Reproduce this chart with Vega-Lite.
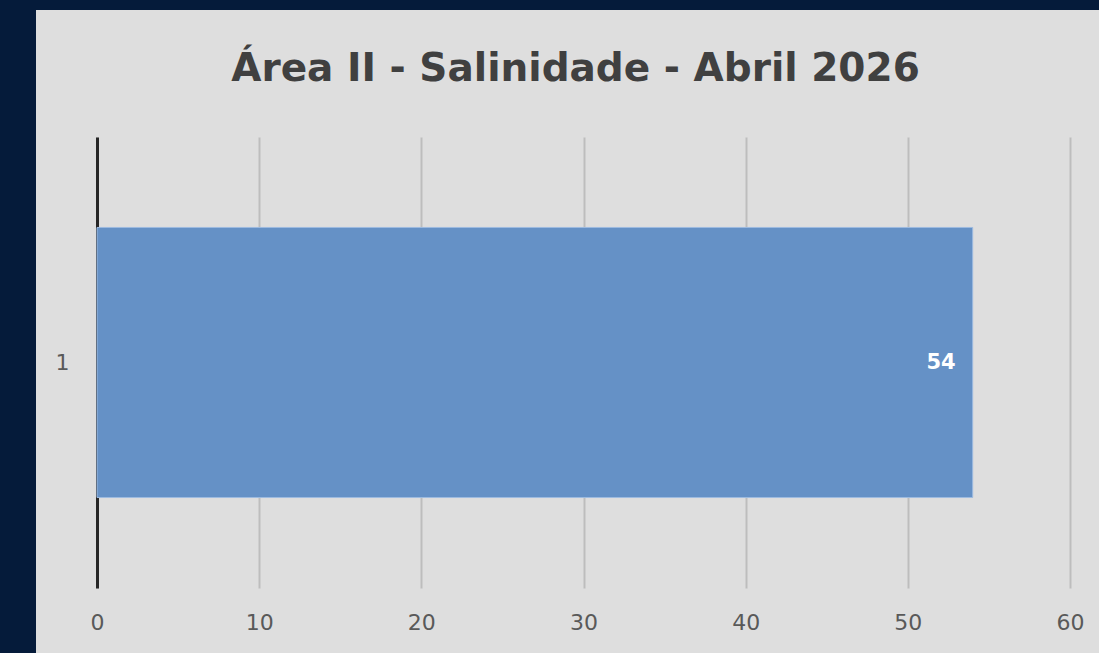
{
  "$schema": "https://vega.github.io/schema/vega-lite/v6.json",
  "background": "#dedede",
  "padding": 0,
  "spacing": 0,
  "config": {"view": {"stroke": null}, "font": "DejaVu Sans"},
  "datasets": {"d": [{"categoria": "1", "salinidade": 54}]},
  "vconcat": [
    {
      "width": 1099, "height": 10,
      "data": {"name": "d"},
      "mark": {"type": "point", "opacity": 0, "size": 0},
      "encoding": {},
      "view": {"fill": "#051b3a", "stroke": null}
    },
    {
      "spacing": 0,
      "hconcat": [
        {
          "width": 36, "height": 643,
          "data": {"name": "d"},
          "mark": {"type": "point", "opacity": 0, "size": 0},
          "encoding": {},
          "view": {"fill": "#051b3a", "stroke": null}
        },
        {
          "spacing": 39,
          "vconcat": [
            {
              "width": 10, "height": 1,
              "data": {"name": "d"},
              "mark": {"type": "point", "opacity": 0, "size": 0},
              "encoding": {}
            },
            {
              "width": 973, "height": 451,
              "data": {"name": "d"},
              "title": {
                "text": "Área II - Salinidade - Abril 2026",
                "font": "DejaVu Sans", "fontSize": 39, "fontWeight": "bold",
                "color": "#404040", "anchor": "middle", "dx": -8, "offset": 48
              },
              "encoding": {
                "y": {
                  "field": "categoria", "type": "nominal",
                  "scale": {"paddingInner": 0, "paddingOuter": 0.335},
                  "axis": {
                    "title": null, "ticks": false, "domain": true,
                    "domainColor": "#262626", "domainWidth": 3,
                    "labelFont": "DejaVu Sans", "labelFontSize": 22, "labelColor": "#595959",
                    "labelPadding": 28, "labelAngle": 0, "minExtent": 61, "grid": false
                  }
                },
                "x": {
                  "field": "salinidade", "type": "quantitative",
                  "scale": {"domain": [0, 60], "nice": false},
                  "axis": {
                    "title": null, "values": [0, 10, 20, 30, 40, 50, 60],
                    "ticks": false, "domain": false, "labelFlush": false,
                    "grid": true, "gridColor": "#bdbdbd", "gridWidth": 2,
                    "labelFont": "DejaVu Sans", "labelFontSize": 22, "labelColor": "#595959",
                    "labelPadding": 24
                  }
                }
              },
              "layer": [
                {"mark": {"type": "bar", "color": "#6591c6", "stroke": "#9dbbe0", "strokeWidth": 1}},
                {
                  "mark": {"type": "text", "align": "right", "baseline": "middle", "dx": -17,
                            "font": "DejaVu Sans", "fontSize": 21, "fontWeight": "bold", "color": "#ffffff"},
                  "encoding": {"text": {"field": "salinidade", "type": "quantitative"}}
                }
              ]
            }
          ]
        }
      ]
    }
  ]
}
